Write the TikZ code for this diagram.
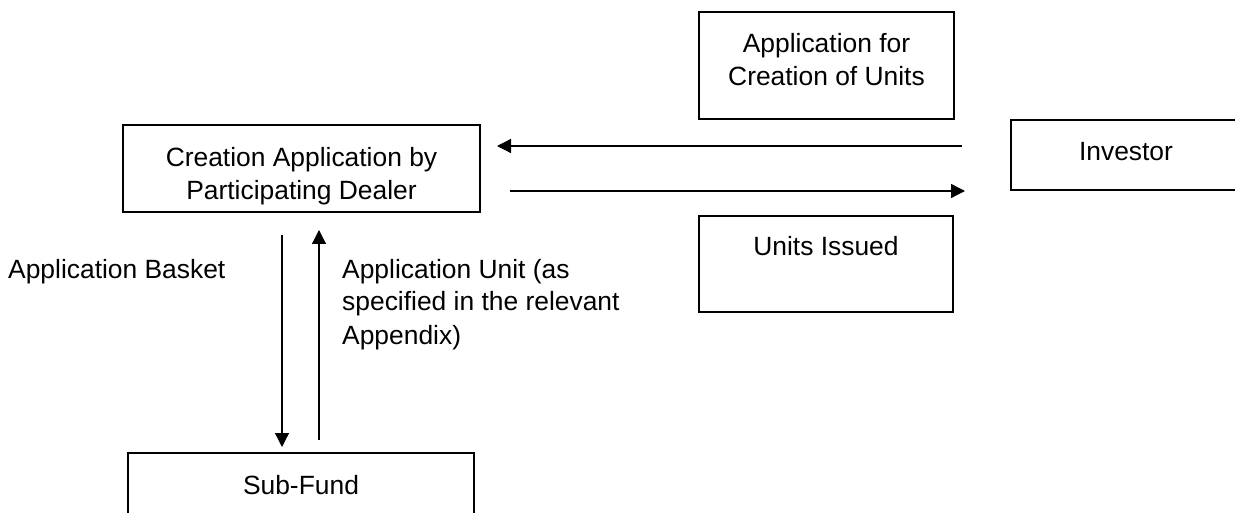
\documentclass[tikz,border=0pt]{standalone}
\usepackage{fontspec}
\setmainfont{Liberation Sans}
\usetikzlibrary{arrows.meta}
\begin{document}
\begin{tikzpicture}[x=1pt,y=-1pt,
  box/.style={draw, line width=1.4pt, inner sep=0pt, outer sep=0pt},
  txt/.style={inner sep=0pt, font=\fontsize{26.4}{33}\selectfont},
  arr/.style={line width=1.3pt, -{Triangle[length=14pt,width=14pt]}}]
\useasboundingbox (0,0) rectangle (1235,513);
% boxes
\node[box, minimum width=255pt, minimum height=107pt] (appbox) at (826.5,65.5) {};
\node[box, minimum width=357pt, minimum height=87pt] (dealer) at (301.5,168.5) {};
\node[box, minimum width=230pt, minimum height=70pt] (investor) at (1126,155) {};
\node[box, minimum width=254pt, minimum height=96pt] (units) at (826,264) {};
\node[box, minimum width=346pt, minimum height=100pt] (subfund) at (301,503) {};
% box texts (base anchor = last line baseline)
\node[txt, align=center, anchor=base] (appt) at (826.5,86) {Application for\\Creation of Units};
\node[txt, align=center, anchor=base] (dealert) at (301.5,200) {Creation Application by\\Participating Dealer};
\node[txt, anchor=base] (investort) at (1126,161) {Investor};
\node[txt, anchor=base] (unitst) at (826,256) {Units Issued};
\node[txt, anchor=base] (subfundt) at (301,494) {Sub-Fund};
% free labels
\node[txt, anchor=base west] (basket) at (8,279) {Application Basket};
\node[txt, align=left, anchor=base west] (unitlbl) at (342,344) {Application Unit (as\\specified in the relevant\\Appendix)};
% connector ends
\coordinate (a1s) at (962,146);
\coordinate (a1e) at (497,146);
\coordinate (a2s) at (510,191);
\coordinate (a2e) at (965,191);
\coordinate (dns) at (282,235);
\coordinate (dne) at (282,447);
\coordinate (ups) at (319,440);
\coordinate (upe) at (319,230);
\draw[arr] (a1s) -- (a1e);
\draw[arr] (a2s) -- (a2e);
\draw[arr] (dns) -- (dne);
\draw[arr] (ups) -- (upe);
\end{tikzpicture}
\end{document}
